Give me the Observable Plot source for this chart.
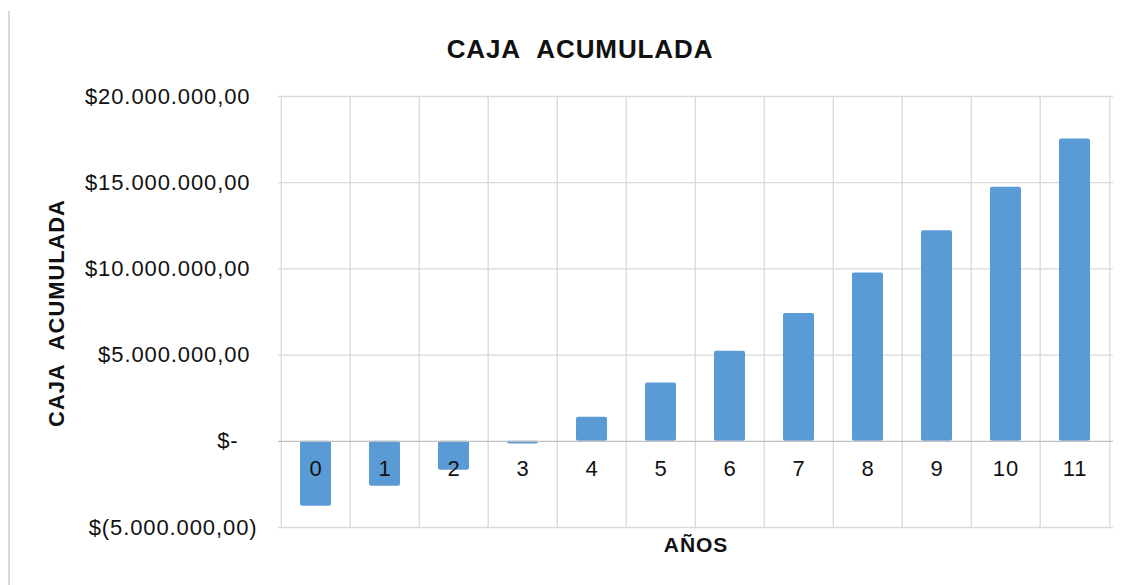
<!DOCTYPE html>
<html><head><meta charset="utf-8">
<script src="https://cdn.jsdelivr.net/npm/d3@7"></script>
<script src="https://cdn.jsdelivr.net/npm/@observablehq/plot@0.6"></script>
<style>
body{margin:0;background:#fff;}
#wrap{position:relative;width:1131px;height:585px;overflow:hidden;}
#frame{position:absolute;left:8px;top:11px;bottom:0;width:1.5px;background:#d9d9d9;}
#wrap svg{position:absolute;left:0;top:0;}
</style></head><body><div id="wrap"><div id="frame"></div></div>
<script>
const years = [0, 1, 2, 3, 4, 5, 6, 7, 8, 9, 10, 11];
const caja = [-3770000, -2610000, -1680000, -150000, 1400000, 3380000, 5230000, 7420000, 9760000, 12210000, 14740000, 17530000];
const yTicksPos = [5000000, 10000000, 15000000, 20000000];
const yTicksZero = [0];
const yTicksNeg = [-5000000];
const chartTitle = "CAJA\u00A0 ACUMULADA";
const yTitle = "CAJA\u00A0 ACUMULADA";
const xTitle = "AÑOS";

const data = years.map((y, i) => ({year: y, value: caja[i]}));

const loc = d3.formatLocale({decimal: ",", thousands: ".", grouping: [3], currency: ["$", ""]});
const num = loc.format(",.2f");
const fmt = d => d === 0 ? "$-" : d < 0 ? "$(" + num(-d) + ")" : "$" + num(d);

const W = 1131, H = 585, mL = 278, mR = 18, mT = 96, mB = 58;
const step = (W - mL - mR) / years.length;
const font = "'Liberation Sans', Arial, sans-serif";
const grid = "#d9d9d9";

const chart = Plot.plot({
  width: W, height: H,
  marginLeft: mL, marginRight: mR, marginTop: mT, marginBottom: mB,
  style: {fontFamily: font, background: "transparent", color: "#111", letterSpacing: "0.9px"},
  x: {type: "band", domain: years, paddingInner: 0.545, paddingOuter: 0.2725, axis: null},
  y: {domain: [-5000000, 20000000], axis: null},
  marks: [
    Plot.ruleY([...yTicksNeg, ...yTicksPos], {stroke: grid, strokeWidth: 1.3}),
    Plot.ruleX(years, {x: d => d, dx: -step / 2, stroke: grid, strokeWidth: 1.3}),
    Plot.ruleX([years[years.length - 1]], {x: d => d, dx: step / 2, stroke: grid, strokeWidth: 1.3}),
    Plot.barY(data, {x: "year", y: "value", fill: "#5B9BD5", rx: 2}),
    Plot.ruleY(yTicksZero, {stroke: "#bfbfbf", strokeWidth: 1.3}),
    Plot.axisY(yTicksPos, {anchor: "left", tickSize: 0, tickPadding: 28, tickFormat: fmt, fontSize: 22, label: null}),
    Plot.axisY(yTicksZero, {anchor: "left", tickSize: 0, tickPadding: 40, tickFormat: fmt, fontSize: 22, label: null}),
    Plot.axisY(yTicksNeg, {anchor: "left", tickSize: 0, tickPadding: 21, tickFormat: fmt, fontSize: 22, label: null}),
    Plot.text(years, {x: d => d, y: 0, dy: 28, text: d => String(d), fontSize: 22, fill: "#111"}),
    Plot.text([chartTitle], {frameAnchor: "top", lineAnchor: "middle", dx: -116, dy: -47, fontSize: 26, fontWeight: "bold", fill: "#111"}),
    Plot.text([yTitle], {frameAnchor: "left", textAnchor: "middle", lineAnchor: "middle", dx: -222, dy: 1, rotate: -90, fontSize: 22, fontWeight: "bold", fill: "#111"}),
    Plot.text([xTitle], {frameAnchor: "bottom", lineAnchor: "middle", dy: 18, fontSize: 21, fontWeight: "bold", fill: "#111"})
  ]
});
document.getElementById("wrap").appendChild(chart);
</script>
</body></html>
